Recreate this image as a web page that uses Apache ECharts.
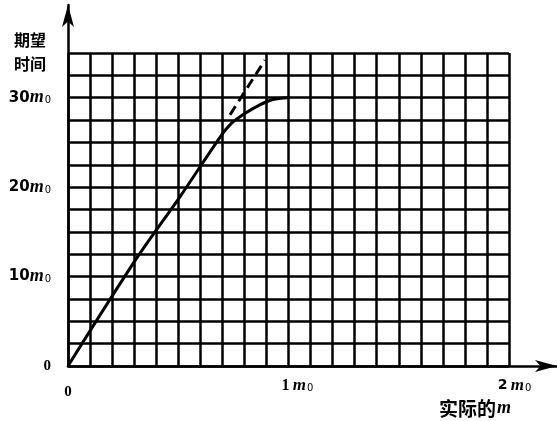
<!DOCTYPE html>
<html><head><meta charset="utf-8">
<script src="https://cdn.jsdelivr.net/npm/echarts@6/dist/echarts.min.js"></script>
<style>html,body{margin:0;padding:0;background:#fff}#c{width:557px;height:421px}</style>
</head><body><div id="c"></div>
<script>
// Expected time (units of m0) against the actual m (units of m0)
const actualM = [0, 0.31, 0.51, 0.69, 0.74, 0.80, 0.87, 0.93, 1.00];
const expectedTime = [0, 12.0, 19.0, 25.6, 27.1, 28.2, 29.2, 29.8, 30.0];
// Straight-line extension of the initial slope (dashed)
const extM = [0.735, 0.893];
const extTime = [28.1, 34.2];
// Labelled ticks
const xLabelled = [0, 1, 2];
const yLabelled = [0, 10, 20, 30];

const near = (v, t) => Math.abs(v - t) < 1e-6;
const ink = '#000';
const serif = 'Liberation Serif';
const sans = 'DejaVu Sans';
const cjk = 'Noto Sans CJK SC';

const chart = echarts.init(document.getElementById('c'), null, { renderer: 'canvas' });
chart.setOption({
  backgroundColor: '#fff',
  animation: false,
  title: [
    { text: '期望\n时间', left: 9, top: 23,
      textStyle: { fontFamily: cjk, fontWeight: 'bold', fontSize: 16, lineHeight: 24, color: ink } },
    { text: '{c|实际的}{m|m}', left: 434, top: 394,
      textStyle: { rich: {
        c: { fontFamily: cjk, fontWeight: 'bold', fontSize: 19, color: ink },
        m: { fontFamily: serif, fontStyle: 'italic', fontWeight: 'bold', fontSize: 18, color: ink, padding: [0, 0, 0, 1] }
      } } }
  ],
  grid: [
    { left: 68, right: 48, top: 53, bottom: 55 },
    { left: 68, right: 0, top: 5, bottom: 55 }
  ],
  xAxis: [
    { type: 'value', gridIndex: 0, min: 0, max: 2, interval: 0.1,
      axisLine: { show: false }, axisTick: { show: false },
      splitLine: { show: true, lineStyle: { color: ink, width: 2.5 } },
      axisLabel: {
        margin: 11,
        formatter: v => {
          if (!xLabelled.some(t => near(v, t))) return '';
          if (near(v, 0)) return '{z|0}';
          if (near(v, 1)) return '{n|1} {m|m}{s|0}';
          return '{b|2} {m|m}{s|0}';
        },
        rich: {
          z: { fontFamily: serif, fontWeight: 'bold', fontSize: 15, color: ink, padding: [8, 0, 0, 0] },
          n: { fontFamily: serif, fontWeight: 'bold', fontSize: 16, color: ink, padding: [0, 0, 0, 18] },
          b: { fontFamily: sans, fontWeight: 'bold', fontSize: 14, color: ink, padding: [0, 0, 0, 11] },
          m: { fontFamily: serif, fontStyle: 'italic', fontWeight: 'bold', fontSize: 17, color: ink },
          s: { fontFamily: sans, fontSize: 10, color: ink, padding: [6, 0, 0, 1] }
        }
      } },
    { type: 'value', gridIndex: 1, min: 0, max: 1,
      axisLine: { show: true, symbol: ['none', 'arrow'], symbolSize: [9, 22],
        lineStyle: { color: ink, width: 2.5 } },
      axisTick: { show: false }, axisLabel: { show: false }, splitLine: { show: false } }
  ],
  yAxis: [
    { type: 'value', gridIndex: 0, min: 0, max: 35, interval: 2.5,
      axisLine: { show: false }, axisTick: { show: false },
      splitLine: { show: true, lineStyle: { color: ink, width: 2.5 } },
      axisLabel: {
        margin: 17,
        formatter: v => {
          if (!yLabelled.some(t => near(v, t))) return '';
          if (near(v, 0)) return '{z|0}';
          return '{a|' + Math.round(v) + '}{m|m}{s|0}';
        },
        rich: {
          z: { fontFamily: serif, fontWeight: 'bold', fontSize: 15, color: ink },
          a: { fontFamily: sans, fontWeight: 'bold', fontSize: 15, color: ink },
          m: { fontFamily: serif, fontStyle: 'italic', fontWeight: 'bold', fontSize: 18, color: ink },
          s: { fontFamily: sans, fontSize: 10, color: ink, padding: [6, 0, 0, 1] }
        }
      } },
    { type: 'value', gridIndex: 1, min: 0, max: 1,
      axisLine: { show: true, symbol: ['none', 'arrow'], symbolSize: [9, 22],
        lineStyle: { color: ink, width: 2.5 } },
      axisTick: { show: false }, axisLabel: { show: false }, splitLine: { show: false } }
  ],
  series: [
    { type: 'line', xAxisIndex: 0, yAxisIndex: 0, smooth: 0.3, symbol: 'none',
      lineStyle: { color: ink, width: 3 },
      data: actualM.map((x, i) => [x, expectedTime[i]]) },
    { type: 'line', xAxisIndex: 0, yAxisIndex: 0, symbol: 'none',
      lineStyle: { color: ink, width: 3, type: [10, 6] },
      data: extM.map((x, i) => [x, extTime[i]]) }
  ]
});
</script>
</body></html>
